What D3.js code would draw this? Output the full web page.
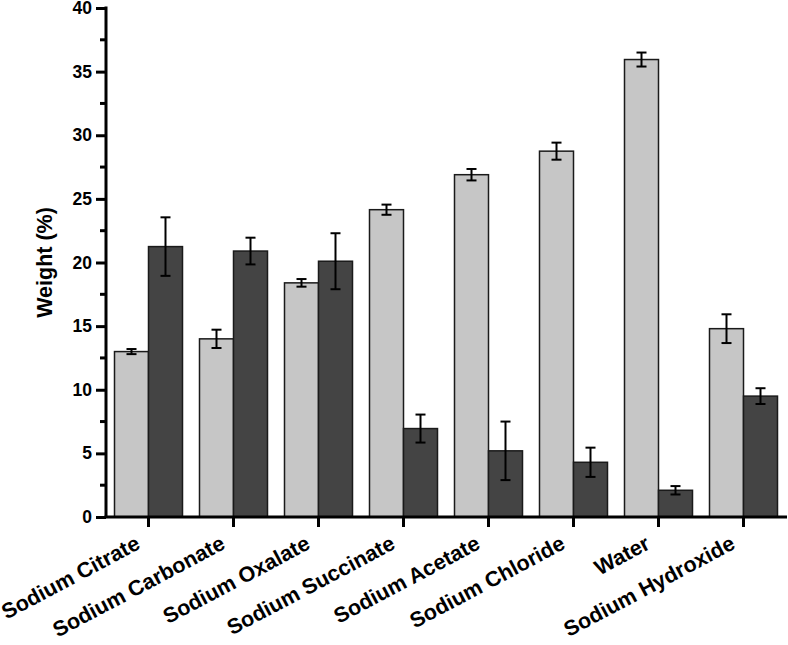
<!DOCTYPE html>
<html><head><meta charset="utf-8">
<script src="https://cdn.jsdelivr.net/npm/d3@7"></script>
<style>body{margin:0;background:#fff}</style>
</head><body><svg id="c" width="788" height="645"></svg>
<script>
const categories = ["Sodium Citrate","Sodium Carbonate","Sodium Oxalate","Sodium Succinate","Sodium Acetate","Sodium Chloride","Water","Sodium Hydroxide"];
const seriesA = [13.0, 14.0, 18.4, 24.15, 26.9, 28.75, 35.95, 14.8];
const errA    = [0.2, 0.72, 0.3, 0.4, 0.45, 0.67, 0.55, 1.13];
const seriesB = [21.25, 20.9, 20.1, 6.95, 5.2, 4.3, 2.1, 9.5];
const errB    = [2.3, 1.05, 2.2, 1.1, 2.3, 1.15, 0.33, 0.62];
const yTicks = [0,5,10,15,20,25,30,35,40];
const yMinor = [2.5,7.5,12.5,17.5,22.5,27.5,32.5,37.5];

const svg = d3.select("#c");
const x0 = 106, x1 = 786, yTop = 8, yBot = 517;
const x = d3.scaleBand().domain(categories).range([x0, x1]).paddingInner(0.2).paddingOuter(0.1);
const y = d3.scaleLinear().domain([0, 40]).range([yBot, yTop]);
const sub = d3.scaleBand().domain(["A","B"]).range([0, x.bandwidth()]);
const font = "'Liberation Sans', Arial, sans-serif";

const series = [{k:"A", v:seriesA, e:errA, fill:"#c6c6c6"},{k:"B", v:seriesB, e:errB, fill:"#444444"}];
const g = svg.append("g");
series.forEach(s => {
  categories.forEach((c, i) => {
    const bx = x(c) + sub(s.k);
    g.append("rect").attr("x", bx).attr("y", y(s.v[i])).attr("width", sub.bandwidth()).attr("height", y(0) - y(s.v[i]))
      .attr("fill", s.fill).attr("stroke", "#1a1a1a").attr("stroke-width", 1.5);
  });
});
series.forEach(s => {
  categories.forEach((c, i) => {
    const cx = x(c) + sub(s.k) + sub.bandwidth()/2;
    const hi = y(s.v[i] + s.e[i]), lo = y(s.v[i] - s.e[i]);
    g.append("line").attr("x1", cx).attr("x2", cx).attr("y1", hi).attr("y2", lo).attr("stroke", "#000").attr("stroke-width", 2);
    [hi, lo].forEach(yy => g.append("line").attr("x1", cx-5).attr("x2", cx+5).attr("y1", yy).attr("y2", yy).attr("stroke", "#000").attr("stroke-width", 2));
  });
});

// Y axis
const ya = svg.append("g").attr("transform", `translate(${x0},0)`)
  .call(d3.axisLeft(y).tickValues(yTicks).tickSize(10).tickPadding(4).tickFormat(d3.format("d")));
ya.select(".domain").attr("stroke-width", 3).attr("d", `M0,${yTop-1.5}V${yBot}`);
ya.selectAll(".tick line").attr("stroke-width", 3);
ya.selectAll(".tick text").attr("font-family", font).attr("font-weight", "bold").attr("font-size", 17.5).attr("fill", "#000");
svg.append("g").attr("transform", `translate(${x0},0)`).selectAll("line").data(yMinor).join("line")
  .attr("x1", -6).attr("x2", 0).attr("y1", d => y(d)).attr("y2", d => y(d)).attr("stroke", "#000").attr("stroke-width", 3);

// X axis
const xa = svg.append("g").attr("transform", `translate(0,${yBot})`);
xa.append("line").attr("x1", x0 - 1.5).attr("x2", x1 + 1).attr("y1", 0).attr("y2", 0).attr("stroke", "#000").attr("stroke-width", 3);
categories.forEach(c => {
  const tx = x(c) + x.bandwidth()/2;
  xa.append("line").attr("x1", tx).attr("x2", tx).attr("y1", 0).attr("y2", 10).attr("stroke", "#000").attr("stroke-width", 3);
  xa.append("text").attr("transform", `translate(${tx-7},${31}) rotate(-28)`).attr("text-anchor", "end")
    .attr("font-family", font).attr("font-weight", "bold").attr("font-size", 21.5).text(c);
});

svg.append("text").attr("transform", `translate(52,${(yTop+yBot)/2}) rotate(-90)`).attr("text-anchor", "middle")
  .attr("font-family", font).attr("font-weight", "bold").attr("font-size", 21.5).text("Weight (%)");
</script></body></html>
